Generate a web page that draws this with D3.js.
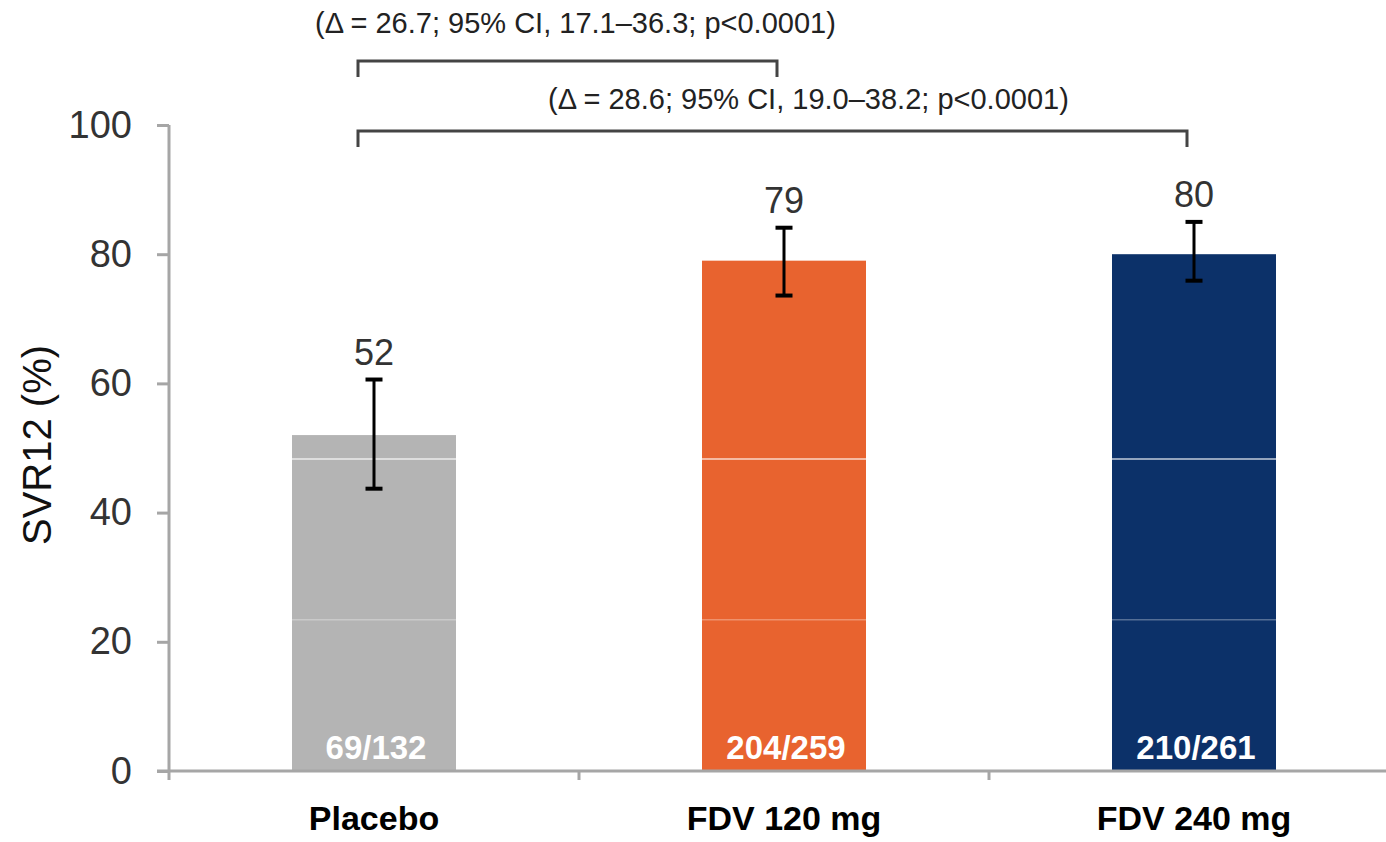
<!DOCTYPE html>
<html>
<head>
<meta charset="utf-8">
<script src="https://cdn.jsdelivr.net/npm/d3@7"></script>
<style>
  body { margin: 0; background: #fff; }
  svg { display: block; font-family: "Liberation Sans", Arial, sans-serif; }
</style>
</head>
<body>
<svg></svg>
<script>
// chart values
const categories = ["Placebo", "FDV 120 mg", "FDV 240 mg"];
const svrValues = [52, 79, 80];
const ciLow = [43.7, 73.6, 75.9];
const ciHigh = [60.6, 84.1, 85.0];
const responders = ["69/132", "204/259", "210/261"];
const barColors = ["#b4b4b4", "#e8632f", "#0c3169"];
const yTicks = [0, 20, 40, 60, 80, 100];

// pairwise comparisons shown as brackets above the bars
const compareFrom = [0, 0];
const compareTo = [1, 2];
const compareText = [
  "(\u0394 = 26.7; 95% CI, 17.1\u201336.3; p<0.0001)",
  "(\u0394 = 28.6; 95% CI, 19.0\u201338.2; p<0.0001)"
];

// faint white seams that run across the bars in the original picture
const seamValues = [48.3, 23.4];

const w = 1386;
const h = 842;
const axisLeft = 169;
const step = 410;
const y0 = 771;
const y100 = 125;

const svg = d3.select("svg")
              .attr("width", w)
              .attr("height", h);

const xScale = d3.scaleBand()
                 .domain(categories)
                 .range([axisLeft, axisLeft + step * categories.length])
                 .padding(0);

const yScale = d3.scaleLinear()
                 .domain([0, 100])
                 .range([y0, y100]);

const barWidth = xScale.bandwidth() * 0.4;
const center = (i) => xScale(categories[i]) + xScale.bandwidth() / 2;

// bars
svg.selectAll("rect.bar")
   .data(svrValues)
   .enter()
   .append("rect")
   .attr("class", "bar")
   .attr("x", (d, i) => center(i) - barWidth / 2)
   .attr("y", (d) => yScale(d))
   .attr("width", barWidth)
   .attr("height", (d) => yScale(0) - yScale(d))
   .attr("fill", (d, i) => barColors[i]);

// seams
svg.selectAll("line.seam")
   .data(seamValues)
   .enter()
   .append("line")
   .attr("class", "seam")
   .attr("x1", axisLeft - 12)
   .attr("x2", w)
   .attr("y1", (d) => yScale(d))
   .attr("y2", (d) => yScale(d))
   .attr("stroke", "#fff")
   .attr("stroke-opacity", (d, i) => i == 0 ? 0.75 : 0.3)
   .attr("stroke-width", 1.5);

// y axis
const yAxis = d3.axisLeft(yScale)
                .tickValues(yTicks)
                .tickSize(12)
                .tickPadding(25)
                .tickFormat(d3.format("d"));

const yg = svg.append("g")
              .attr("transform", "translate(" + axisLeft + ",0)")
              .call(yAxis);
yg.select(".domain").remove();
yg.append("line")
  .attr("x1", 0).attr("x2", 0)
  .attr("y1", yScale(100)).attr("y2", yScale(0) + 9)
  .attr("stroke", "#a6a6a6")
  .attr("stroke-width", 3);
yg.selectAll(".tick line")
  .attr("stroke", "#a6a6a6")
  .attr("stroke-width", 3);
yg.selectAll(".tick text")
  .attr("fill", "#333")
  .style("font-size", "38px");

// x axis, ticks between the categories
const xAxis = d3.axisBottom(xScale)
                .tickSize(0)
                .tickPadding(35)
                .tickFormat((d) => d);

const xg = svg.append("g")
              .attr("transform", "translate(0," + y0 + ")")
              .call(xAxis);
xg.select(".domain").remove();
xg.append("line")
  .attr("x1", axisLeft - 12).attr("x2", w)
  .attr("y1", 0).attr("y2", 0)
  .attr("stroke", "#a6a6a6")
  .attr("stroke-width", 3);
xg.selectAll("line.sep")
  .data(categories.slice(1))
  .enter()
  .append("line")
  .attr("class", "sep")
  .attr("x1", (d) => xScale(d)).attr("x2", (d) => xScale(d))
  .attr("y1", 0).attr("y2", 9)
  .attr("stroke", "#a6a6a6")
  .attr("stroke-width", 3);
xg.selectAll(".tick text")
  .attr("fill", "#000")
  .style("font-size", "34px")
  .style("font-weight", "bold");

// axis title
svg.append("text")
   .attr("transform", "translate(51," + 445 + ") rotate(-90)")
   .attr("text-anchor", "middle")
   .attr("fill", "#111")
   .style("font-size", "40px")
   .text("SVR12 (%)");

// error bars
const capHalf = 8.5;
const err = svg.append("g")
               .attr("stroke", "#000")
               .attr("stroke-width", 3);
svrValues.forEach((v, i) => {
  const cx = center(i);
  err.append("line")
     .attr("x1", cx).attr("x2", cx)
     .attr("y1", yScale(ciLow[i])).attr("y2", yScale(ciHigh[i]));
  [ciLow[i], ciHigh[i]].forEach((c) => {
    err.append("line")
       .attr("x1", cx - capHalf).attr("x2", cx + capHalf)
       .attr("y1", yScale(c)).attr("y2", yScale(c))
       .attr("stroke-width", 4);
  });
});

// value labels above the error bars
svg.selectAll("text.value")
   .data(svrValues)
   .enter()
   .append("text")
   .attr("class", "value")
   .attr("x", (d, i) => center(i))
   .attr("y", (d, i) => yScale(ciHigh[i]) - 15)
   .attr("text-anchor", "middle")
   .attr("fill", "#333")
   .style("font-size", "36px")
   .text((d) => d);

// n/N inside the bars
svg.selectAll("text.resp")
   .data(responders)
   .enter()
   .append("text")
   .attr("class", "resp")
   .attr("x", (d, i) => center(i) + 2)
   .attr("y", y0 - 12)
   .attr("text-anchor", "middle")
   .attr("fill", "#fff")
   .style("font-size", "33px")
   .style("font-weight", "bold")
   .text((d) => d);

// comparison brackets
const bracketTop = [61, 131];
const bracketDrop = 16;
const textX = [315, 548];
const textY = [33, 109];
compareText.forEach((t, k) => {
  const xa = center(compareFrom[k]) - 16;
  const xb = center(compareTo[k]) - 7;
  const yt = bracketTop[k];
  svg.append("path")
     .attr("d", "M" + xa + "," + (yt + bracketDrop) + "V" + yt + "H" + xb + "V" + (yt + bracketDrop))
     .attr("fill", "none")
     .attr("stroke", "#444")
     .attr("stroke-width", 3);
  svg.append("text")
     .attr("x", textX[k])
     .attr("y", textY[k])
     .attr("fill", "#222")
     .style("font-size", "29px")
     .text(t);
});
</script>
</body>
</html>
